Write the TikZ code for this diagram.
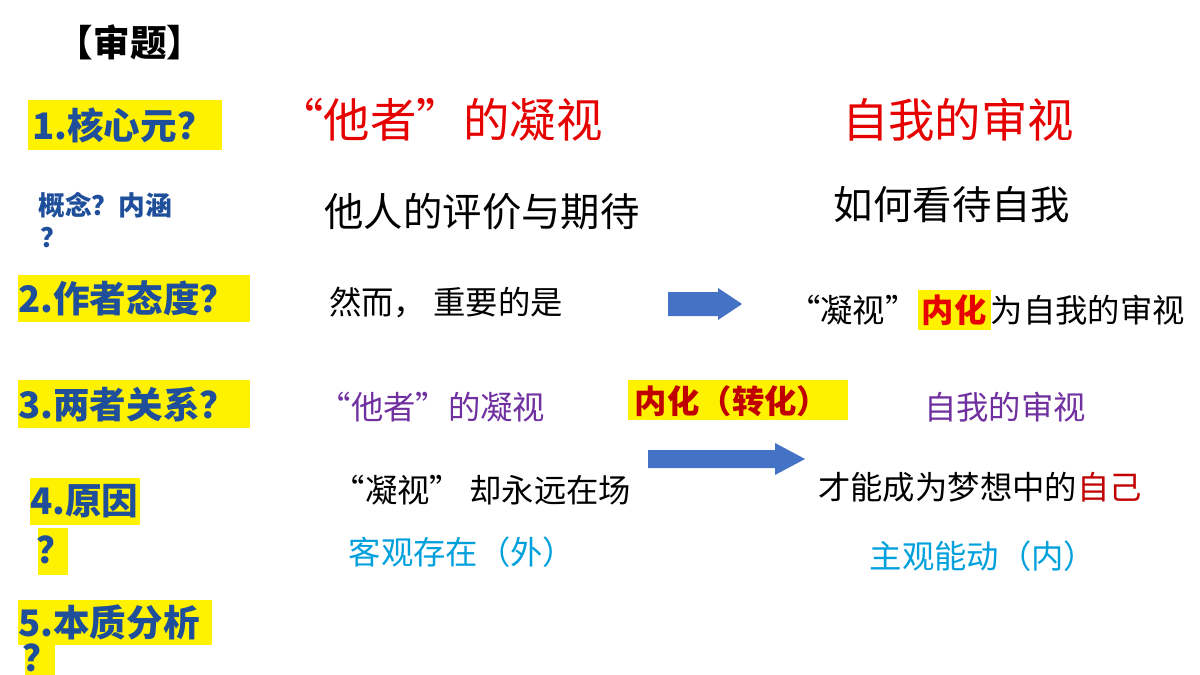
\documentclass[tikz,border=0pt]{standalone}
\usepackage{fontspec}
\setmainfont{Noto Sans CJK SC}
\definecolor{bleu}{RGB}{31,78,154}
\definecolor{rouge}{RGB}{230,0,0}
\definecolor{violet}{RGB}{112,48,160}
\definecolor{ciel}{RGB}{0,160,220}
\definecolor{bordeaux}{RGB}{192,0,0}
\definecolor{fleche}{RGB}{68,114,196}
\begin{document}
\begin{tikzpicture}[x=0.025cm, y=-0.025cm]
	% STYLES
	\tikzstyle{titre} = [font=\fontsize{26}{30}\selectfont\bfseries]
	\tikzstyle{jaune} = [fill=yellow, draw=none]
	\tikzstyle{question} = [text=bleu, anchor=west, inner sep=0pt, font=\fontsize{26}{30}\selectfont\bfseries]
	\tikzstyle{rougegros} = [text=rouge, font=\fontsize{33}{38}\selectfont]
	\tikzstyle{noir} = [text=black, font=\fontsize{28}{32}\selectfont]
	\tikzstyle{phrase} = [text=black, font=\fontsize{23}{27}\selectfont]
	\tikzstyle{mauve} = [text=violet, font=\fontsize{23}{27}\selectfont]
	\tikzstyle{bleuclair} = [text=ciel, font=\fontsize{23}{27}\selectfont]
	\tikzstyle{bloc} = [fill=fleche, draw=none]

	% FOND
	\useasboundingbox (0,0) rectangle (1200,675);

	% QUESTIONS
	\node[titre] (sh) at (130,42) {【审题】};
	\draw[jaune] (28,100) rectangle (222,150);
	\node[question] (q1) at (32,125) {1.核心元？};
	\node[text=bleu, font=\fontsize{19}{22}\selectfont\bfseries, anchor=west, inner sep=0pt] (gn) at (38,205) {概念？内涵};
	\node[text=bleu, font=\fontsize{19}{22}\selectfont\bfseries] (gn2) at (54,238) {？};
	\draw[jaune] (18,275) rectangle (250,322);
	\node[question] (q2) at (18,298) {2.作者态度？};
	\draw[jaune] (18,380) rectangle (250,428);
	\node[question] (q3) at (18,404) {3.两者关系？};
	\draw[jaune] (30,478) rectangle (140,525);
	\node[question] (q4) at (30,501) {4.原因};
	\draw[jaune] (38,528) rectangle (68,575);
	\node[question] (q4b) at (36,550) {？};
	\draw[jaune] (18,600) rectangle (212,645);
	\node[question] (q5) at (18,622) {5.本质分析};
	\draw[jaune] (25,645) rectangle (55,675);
	\node[question] (q5b) at (22,658) {？};

	% COLONNES
	\node[rougegros] (ga) at (440,120) {“他者”的凝视};
	\node[rougegros] (gb) at (958,120) {自我的审视};
	\node[noir] (pa) at (482,212) {他人的评价与期待};
	\node[noir] (pb) at (952,205) {如何看待自我};
	\node[phrase] (ra) at (446,303) {然而，\ 重要的是};
	\node[phrase, anchor=west, inner sep=0pt] (rb) at (788,310) {“凝视”\colorbox{yellow}{\textcolor{rouge}{\bfseries 内化}}为自我的审视};
	\node[mauve] (ma) at (432,407) {“他者”的凝视};
	\draw[jaune] (628,380) rectangle (848,420);
	\node[text=bordeaux, font=\fontsize{23}{27}\selectfont\bfseries] (nh) at (732,401) {内化（转化）};
	\node[mauve] (mb) at (1005,407) {自我的审视};
	\node[phrase] (ya) at (482,490) {“凝视”\ 却永远在场};
	\node[phrase] (yb) at (980,487) {才能成为梦想中的\textcolor{bordeaux}{自己}};
	\node[bleuclair] (ka) at (462,552) {客观存在（外）};
	\node[bleuclair] (kb) at (983,556) {主观能动（内）};

	% FLECHES
	\fill[bloc] (668,292) -- (718,292) -- (718,288) -- (742,304) -- (718,320) -- (718,316) -- (668,316) -- cycle;
	\fill[bloc] (648,450) -- (775,450) -- (775,443) -- (805,459) -- (775,475) -- (775,468) -- (648,468) -- cycle;
\end{tikzpicture}
\end{document}
